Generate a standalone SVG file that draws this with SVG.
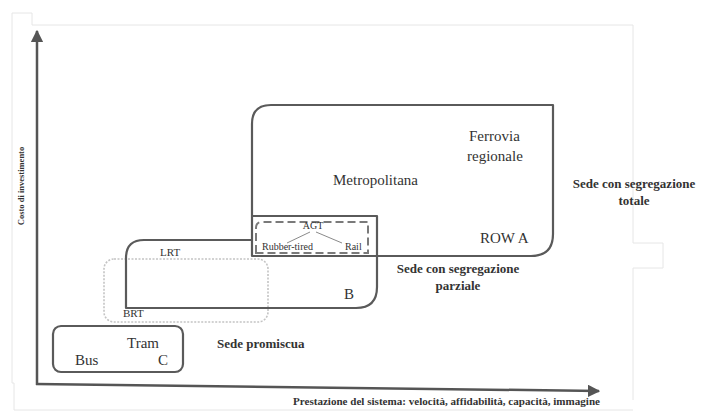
<svg xmlns="http://www.w3.org/2000/svg" width="702" height="412" viewBox="0 0 702 412">
  <style>
    .frame{fill:none;stroke:#e6e6e6;stroke-width:1}
    .box{fill:none;stroke:#5a5a5a;stroke-width:2.2;stroke-linejoin:round}
    .brt{fill:none;stroke:#c4c4c4;stroke-width:1.6;stroke-dasharray:2 1.5}
    .dash{fill:none;stroke:#7a7a7a;stroke-width:2;stroke-dasharray:8 4}
    .thin{fill:none;stroke:#8a8a8a;stroke-width:1}
    .axis{fill:none;stroke:#555;stroke-width:2.5}
    text{font-family:"Liberation Serif","Times New Roman",serif;fill:#333}
    .lbl{font-size:15px}
    .sm{font-size:11px}
    .xs{font-size:10px}
    .b{font-weight:bold;font-size:13px}
  </style>
  <defs>
    <marker id="arr" viewBox="0 0 10 10" refX="9" refY="5" markerWidth="5" markerHeight="5" orient="auto" markerUnits="strokeWidth">
      <path d="M0,0 L10,5 L0,10 z" fill="#555"/>
    </marker>
  </defs>
  <rect width="702" height="412" fill="#fff"/>
  <g id="page-frame">
    <path class="frame" d="M12,383 V13 H32 V25 H633 V243 H663 V268 H633 V400"/>
    <path class="frame" d="M12,383 H14 V410 H633"/>
  </g>
  <g id="connectors">
    <line class="axis" x1="37" y1="385" x2="37" y2="31" marker-end="url(#arr)"/>
    <line class="axis" x1="36" y1="384" x2="599" y2="391" marker-end="url(#arr)"/>
    <line class="thin" x1="310" y1="232" x2="287" y2="243"/>
    <line class="thin" x1="316" y1="232" x2="342" y2="243"/>
  </g>
  <g id="axis-y-label">
    <text class="b" style="font-size:8.5px" transform="translate(24,186) rotate(-90)" text-anchor="middle">Costo di investimento</text>
  </g>
  <g id="axis-x-label">
    <text class="b" style="font-size:9.5px" x="293" y="405" textLength="307" lengthAdjust="spacingAndGlyphs">Prestazione del sistema: velocità, affidabilità, capacità, immagine</text>
  </g>
  <g id="node-brt">
    <rect class="brt" x="104" y="259" width="164" height="63" rx="10"/>
    <text class="sm" x="123" y="317">BRT</text>
  </g>
  <g id="node-c">
    <rect class="box" x="53" y="326" width="130" height="46" rx="8"/>
    <text class="lbl" x="127" y="348">Tram</text>
    <text class="lbl" x="75" y="365">Bus</text>
    <text class="lbl" x="158" y="365">C</text>
  </g>
  <g id="node-b">
    <path class="box" d="M377,256 V287 Q377,308 356,308 H126 V258 Q126,240 144,240 H252"/>
    <text class="sm" x="160" y="256">LRT</text>
    <text class="lbl" x="344" y="299">B</text>
  </g>
  <g id="node-a">
    <path class="box" d="M252,256 V124 Q252,105 271,105 H553 V234 Q553,256 531,256 Z"/>
    <text class="lbl" x="333" y="185">Metropolitana</text>
    <text class="lbl" x="469" y="141">Ferrovia</text>
    <text class="lbl" x="467" y="161">regionale</text>
    <text class="lbl" x="480" y="243">ROW A</text>
  </g>
  <g id="node-agt">
    <path class="box" d="M252,216 H377 V256"/>
    <path class="dash" d="M256,253 V228 Q256,222 262,222 H368 V253 Z"/>
    <text class="xs" x="313" y="229" text-anchor="middle">AGT</text>
    <text class="xs" x="262" y="250">Rubber-tired</text>
    <text class="xs" x="345" y="250">Rail</text>
  </g>
  <g id="label-promiscua">
    <text class="b" x="217" y="348">Sede promiscua</text>
  </g>
  <g id="label-parziale">
    <text class="b" x="458" y="273" text-anchor="middle">Sede con segregazione</text>
    <text class="b" x="458" y="290" text-anchor="middle">parziale</text>
  </g>
  <g id="label-totale">
    <text class="b" x="634" y="188" text-anchor="middle">Sede con segregazione</text>
    <text class="b" x="634" y="205" text-anchor="middle">totale</text>
  </g>
</svg>
